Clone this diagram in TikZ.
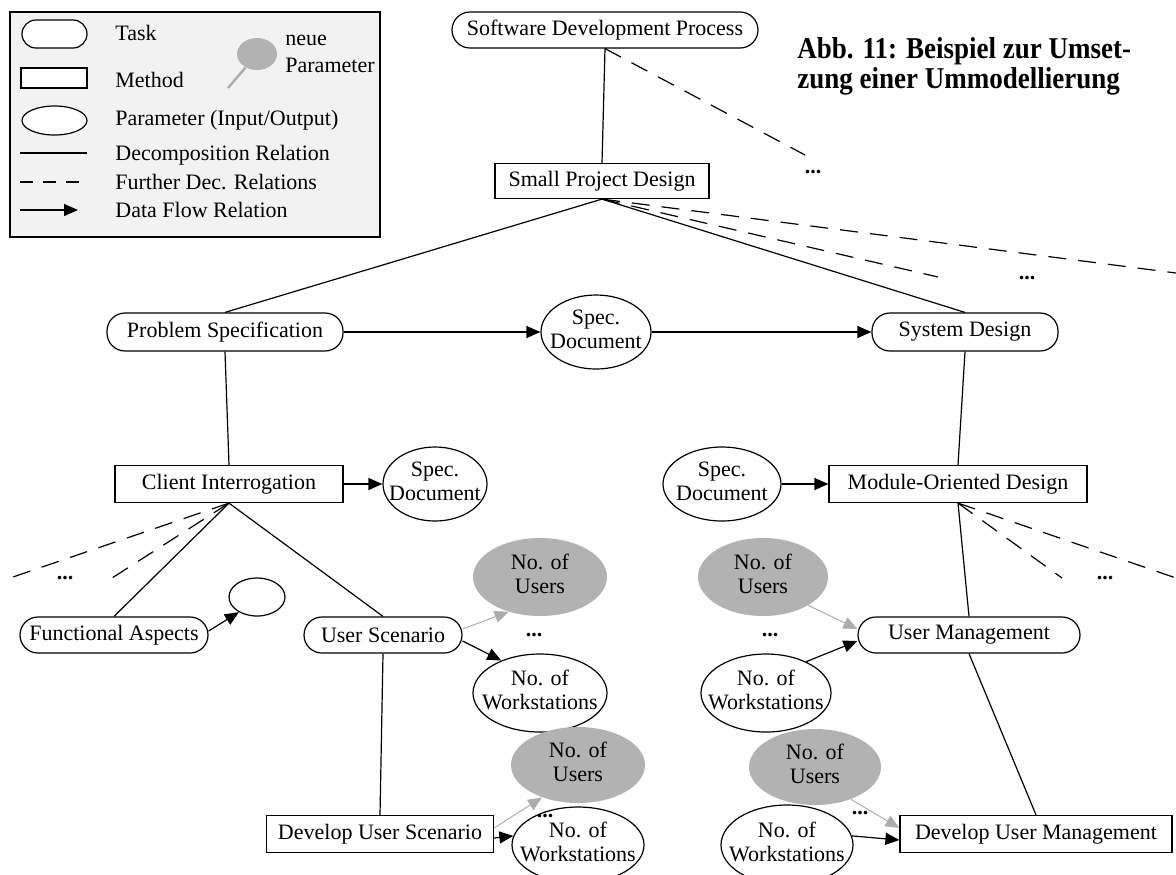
\documentclass[tikz,border=0pt]{standalone}
\usepackage{fontspec}
\setmainfont{Liberation Serif}
\usetikzlibrary{shapes.geometric,arrows.meta}
\definecolor{newgray}{gray}{0.70}
\definecolor{legendbg}{gray}{0.95}
\definecolor{arrowgray}{gray}{0.68}
\newcommand{\ptxt}[1]{\makebox[0pt][c]{\begin{tabular}{@{}c@{}}#1\end{tabular}}}
\newcommand{\tall}[1]{\scalebox{1}[1.12]{#1}}
\begin{document}
\begin{tikzpicture}[x=0.5pt,y=-0.5pt,
 every node/.style={font=\fontsize{11}{12}\selectfont},
 task/.style={draw, rounded corners=9pt, minimum height=18pt, inner sep=0pt, fill=white, line width=0.6pt},
 method/.style={draw, rectangle, minimum height=18.5pt, inner sep=0pt, fill=white, line width=0.6pt},
 param/.style={draw, ellipse, fill=white, inner sep=0pt, line width=0.6pt},
 newparam/.style={ellipse, fill=newgray, inner sep=0pt},
 dec/.style={line width=0.6pt},
 further/.style={line width=0.6pt, dash pattern=on 9pt off 6pt},
 flow/.style={line width=0.6pt, -{Triangle[length=7pt,width=6pt]}},
 newflow/.style={line width=0.5pt, arrowgray, -{Triangle[length=7pt,width=6pt]}},
 lbl/.style={anchor=west, inner sep=0pt},
 dots/.style={inner sep=0pt, font=\bfseries\fontsize{11}{12}\selectfont},
]
\useasboundingbox (0,0) rectangle (1176,874);

% ---------------- legend ----------------
\node[draw, fill=legendbg, line width=0.8pt, minimum width=185pt, minimum height=112.5pt, inner sep=0pt] (legend) at (195,124.5) {};
\node[task, minimum width=32.5pt, minimum height=14pt, rounded corners=7pt] (lt) at (54.5,34) {};
\node[lbl] (ltl) at (115,33) {Task};
\node[method, minimum width=33pt, minimum height=10pt] (lm) at (54,78) {};
\node[lbl] (lml) at (115,80) {Method};
\node[param, minimum width=32.5pt, minimum height=14.5pt] (lp) at (54.5,120.5) {};
\node[lbl] (lpl) at (115,120) {Parameter (Input/Output)};
\coordinate (ld1) at (20,153); \coordinate (ld2) at (87,153);
\draw[dec] (ld1) -- (ld2);
\node[lbl] (ldl) at (115,155) {Decomposition Relation};
\coordinate (lf1) at (20,182); \coordinate (lf2) at (87,182);
\draw[line width=0.6pt, dash pattern=on 6.5pt off 5pt] (lf1) -- (lf2);
\node[lbl] (lfl) at (115,182) {Further Dec. Relations};
\coordinate (la1) at (20,210); \coordinate (la2) at (78,210);
\draw[flow] (la1) -- (la2);
\node[lbl] (lal) at (115,210) {Data Flow Relation};
\node[newparam, minimum width=20pt, minimum height=16pt] (lnp) at (257,54) {};
\coordinate (lnl) at (228,88);
\draw[arrowgray, line width=1.2pt] (lnl) -- (lnp);
\node[lbl] (lnt1) at (285,40) {neue};
\node[lbl] (lnt2) at (285,65) {Parameter};

% ---------------- title ----------------
\node[anchor=base west, align=left, inner sep=0pt, font=\bfseries\fontsize{13.5}{13.5}\selectfont] (title) at (797,88)
  {\tall{Abb. 11: Beispiel zur Umset-}\\\tall{zung einer Ummodellierung}};

% ---------------- main nodes ----------------
\node[task, minimum width=153pt] (sdp) at (605,30) {Software Development Process};
\node[method, minimum width=107pt, minimum height=17.5pt] (spd) at (602,181) {Small Project Design};
\node[task, minimum width=118pt, minimum height=19pt] (ps) at (225,332) {Problem Specification};
\node[param, minimum width=55pt, minimum height=37pt] (sd1) at (596,332) {\ptxt{Spec.\\Document}};
\node[task, minimum width=93pt, minimum height=19pt] (sysd) at (965,332) {System Design};

\node[method, minimum width=114pt] (ci) at (229,484) {Client Interrogation};
\node[param, minimum width=52pt, minimum height=37pt] (sd2) at (435,484) {\ptxt{Spec.\\Document}};
\node[param, minimum width=59pt, minimum height=37pt] (sd3) at (722,484) {\ptxt{Spec.\\Document}};
\node[method, minimum width=129pt] (mod) at (958,484) {Module-Oriented Design};

\node[task, minimum width=94pt] (fa) at (114,635) {Functional Aspects};
\node[param, minimum width=28pt, minimum height=19pt] (empty) at (257,597) {};
\node[task, minimum width=79pt] (us) at (383,635) {User Scenario};
\node[newparam, minimum width=67pt, minimum height=39pt] (u1) at (540,577) {\ptxt{No. of\\Users}};
\node[param, minimum width=67pt, minimum height=39pt] (w1) at (540,693) {\ptxt{No. of\\Workstations}};
\node[method, minimum width=113.5pt] (dus) at (380,834) {Develop User Scenario};
\node[newparam, minimum width=67pt, minimum height=38pt] (u2) at (578,765) {\ptxt{No. of\\Users}};
\node[param, minimum width=66pt, minimum height=38pt] (w2) at (578,845) {\ptxt{No. of\\Workstations}};

\node[newparam, minimum width=65pt, minimum height=39pt] (u3) at (763,577) {\ptxt{No. of\\Users}};
\node[param, minimum width=65pt, minimum height=39pt] (w3) at (766,693) {\ptxt{No. of\\Workstations}};
\node[task, minimum width=111pt] (um) at (969,635) {User Management};
\node[newparam, minimum width=66pt, minimum height=38pt] (u4) at (815,767) {\ptxt{No. of\\Users}};
\node[param, minimum width=66pt, minimum height=40pt] (w4) at (787,845) {\ptxt{No. of\\Workstations}};
\node[method, minimum width=136pt] (dum) at (1036,834) {Develop User Management};

% dots
\node[dots] (dt1) at (813,172) {...};
\node[dots] (dt2) at (1027,278) {...};
\node[dots] (dt3) at (65,578) {...};
\node[dots] (dt4) at (534,635) {...};
\node[dots] (dt5) at (1105,578) {...};
\node[dots] (dt6) at (770,635) {...};
\node[dots] (dt7) at (545,816) {...};
\node[dots] (dt8) at (860,813) {...};

% free ends of further relations
\coordinate (dA) at (805,155);
\coordinate (dB) at (1176,273);
\coordinate (dC) at (938,277);
\coordinate (dD) at (10,578);
\coordinate (dE) at (112,578);
\coordinate (dF) at (1176,578);
\coordinate (dG) at (1062,578);

% ---------------- connectors ----------------
\draw[dec] (sdp.south) -- (spd.north);
\draw[further] (sdp.south) -- (dA);
\draw[dec] (spd.south) -- (ps.north);
\draw[dec] (spd.south) -- (sysd.north);
\draw[further] (spd.south) -- (dB);
\draw[further] (spd.south) -- (dC);
\draw[flow] (ps.east) -- (sd1.west);
\draw[flow] (sd1.east) -- (sysd.west);
\draw[dec] (ps.south) -- (ci.north);
\draw[dec] (sysd.south) -- (mod.north);
\draw[flow] (ci.east) -- (sd2.west);
\draw[flow] (sd3.east) -- (mod.west);

\draw[further] (ci.south) -- (dD);
\draw[further] (ci.south) -- (dE);
\draw[dec] (ci.south) -- (fa.north);
\draw[dec] (ci.south) -- (us.north);
\draw[flow] ([yshift=2pt]fa.east) -- (empty.220);
\draw[dec] (us.south) -- (dus.north);
\draw[newflow] ([yshift=3pt]us.east) -- (u1.228);
\draw[flow] ([yshift=-3pt]us.east) -- (w1.140);
\draw[newflow] ([yshift=3pt]dus.east) -- (u2.222);
\draw[flow] ([yshift=-2pt]dus.east) -- (w2.172);

\draw[dec] (mod.south) -- (um.north);
\draw[further] (mod.south) -- (dF);
\draw[further] (mod.south) -- (dG);
\draw[newflow] (u3.-32) -- ([yshift=3pt]um.west);
\draw[flow] (w3.38) -- ([yshift=-3pt]um.west);
\draw[dec] (um.south) -- (dum.north);
\draw[newflow] (u4.-42) -- ([yshift=3pt]dum.west);
\draw[flow] (w4.8) -- ([yshift=-3pt]dum.west);
\end{tikzpicture}
\end{document}
